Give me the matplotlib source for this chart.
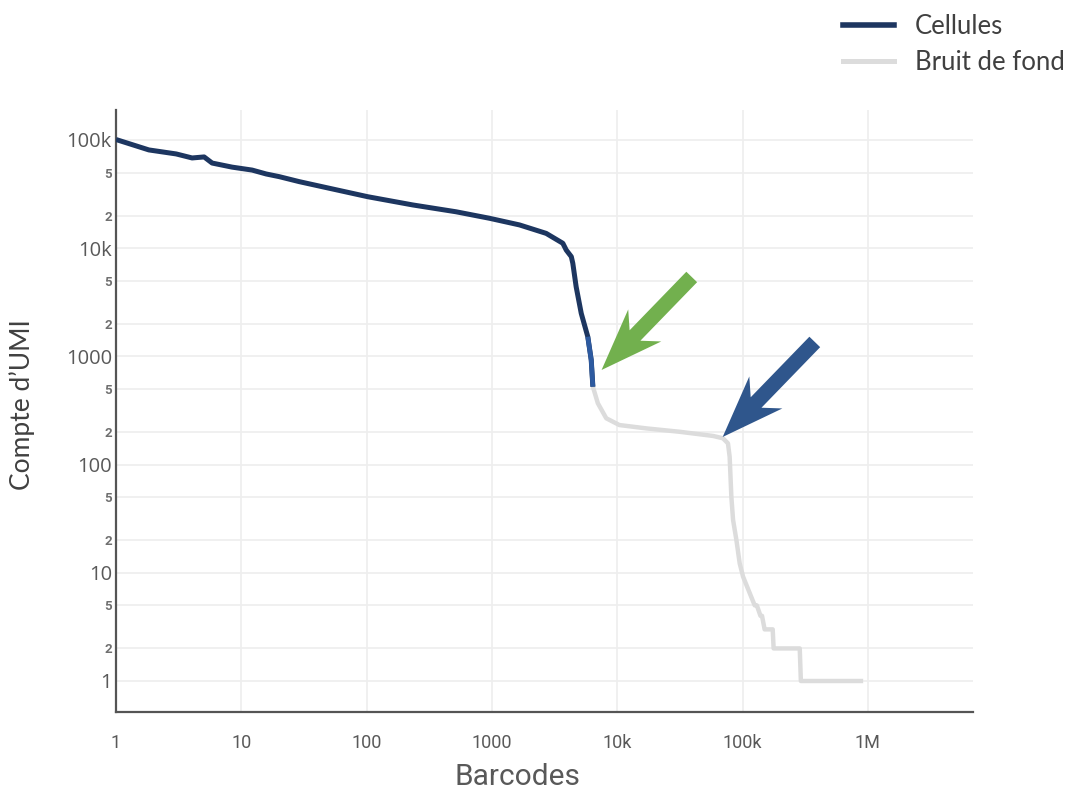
import numpy as np
import matplotlib
matplotlib.use("Agg")
import matplotlib.pyplot as plt
from matplotlib.lines import Line2D
from matplotlib.patches import Polygon
from matplotlib.transforms import IdentityTransform
from matplotlib.ticker import NullLocator

# Barcode rank plot: cells (high UMI) and background (empty droplets)
cell_rank = [1, 1.83, 3.02, 4.05, 5.05, 5.85, 8.45, 12.2, 15.8, 20.1, 29.0, 50.3,
             102, 233, 517, 955, 1660, 2710, 3680, 3920, 4300, 4420, 4700, 5160,
             5820, 6200, 6390]
cell_umi = [101000, 80900, 74300, 68200, 69700, 61200, 56100, 52700, 48500, 45800,
            41200, 35800, 29900, 25100, 21700, 18900, 16400, 13700, 11100, 9600,
            8350, 7250, 4400, 2500, 1520, 926, 525]

bg_rank = [6390, 7000, 8170, 10400, 17100, 31500, 58100, 69800, 76500, 78900, 81400,
           84000, 89300, 94900, 101000, 114000, 125000, 130000, 139000, 143000,
           150000, 174000, 177000, 286000, 292000, 917000]
bg_umi = [525, 369, 268, 232, 216, 201, 184, 175, 157, 118, 50.5, 30.8, 20.1, 12.2,
          9.2, 6.5, 5, 5, 4, 4, 3, 3, 2, 2, 1, 1]

x_ticks = [1, 10, 100, 1000, 1e4, 1e5, 1e6]
x_labels = ["1", "10", "100", "1000", "10k", "100k", "1M"]
y_ticks = [1, 10, 100, 1000, 1e4, 1e5]
y_labels = ["1", "10", "100", "1000", "10k", "100k"]
y_minor = [2, 5, 20, 50, 200, 500, 2000, 5000, 20000, 50000]
y_minor_labels = ["2", "5"] * 5

# Arrow positions (rank, UMI): tail -> tip
green_arrow = [(39300, 5420), (7500, 749)]
blue_arrow = [(377000, 1360), (69400, 180)]

NAVY = "#1d3660"
END_BLUE = "#2d5aa0"
GREY = "#dcdcdc"
TXT = "#595959"

fig = plt.figure(figsize=(10.69, 7.89), dpi=100)
ax = fig.add_axes([116 / 1069, 1 - 712 / 789, (973 - 116) / 1069, (712 - 110) / 789])

ax.set_xscale("log")
ax.set_yscale("log")
ax.set_xlim(1, 10 ** 6.839)
ax.set_ylim(10 ** -0.2865, 10 ** 5.277)

ax.plot(bg_rank, bg_umi, color=GREY, lw=3.2, solid_capstyle="butt",
        solid_joinstyle="round", zorder=3)
ax.plot(cell_rank, cell_umi, color=NAVY, lw=3.6, solid_capstyle="butt",
        solid_joinstyle="round", zorder=4)
# last part of the cell curve fades to a lighter blue
tail = [i for i, v in enumerate(cell_umi) if v <= 1520]
ax.plot([cell_rank[i] for i in tail], [cell_umi[i] for i in tail], color=END_BLUE,
        lw=3.4, solid_capstyle="butt", solid_joinstyle="round", zorder=5)

ax.set_xticks(x_ticks, x_labels)
ax.xaxis.set_minor_locator(NullLocator())
ax.set_yticks(y_ticks, y_labels)
ax.set_yticks(y_minor, y_minor_labels, minor=True)

for lab in ax.get_xticklabels():
    lab.set_fontfamily("Roboto")
    lab.set_fontsize(13)
    lab.set_color(TXT)
for lab in ax.get_yticklabels():
    lab.set_fontfamily("Open Sans")
    lab.set_fontsize(14.5)
    lab.set_color(TXT)
for lab in ax.get_yticklabels(minor=True):
    lab.set_fontfamily("Roboto")
    lab.set_fontsize(9.5)
    lab.set_fontweight("bold")
    lab.set_color("#707070")

ax.tick_params(axis="x", which="both", length=0, pad=16)
ax.tick_params(axis="y", which="both", length=0, pad=3)

ax.grid(True, which="major", axis="x", color="#eeeeee", lw=1.2)
ax.grid(True, which="both", axis="y", color="#eeeeee", lw=1.2)
ax.set_axisbelow(True)

for s in ["top", "right"]:
    ax.spines[s].set_visible(False)
for s in ["left", "bottom"]:
    ax.spines[s].set_color("#555555")
    ax.spines[s].set_linewidth(1.6)

fig.text(517 / 1069, 1 - 777 / 789, "Barcodes", ha="center", va="center",
         fontsize=21.5, family="Roboto", color=TXT)
fig.text(22 / 1069, 1 - 405 / 789, "Compte d\u2019UMI", ha="center", va="center",
         rotation=90, fontsize=19, family="Lato", color="#404040")

handles = [Line2D([], [], color=NAVY, lw=4.0), Line2D([], [], color=GREY, lw=3.6)]
fig.legend(handles, ["Cellules", "Bruit de fond"], loc="upper left",
           bbox_to_anchor=(843 / 1069, 1 - 14 / 789), frameon=False,
           borderpad=0, borderaxespad=0, handlelength=2.0, handletextpad=0.8,
           labelspacing=0.44, prop={"family": "Lato", "size": 18.5},
           labelcolor="#404040")


def stealth_arrow(tail_pt, tip_pt, color, shaft_hw=7.5, head_len=62, notch=48,
                  head_hw=23):
    t = ax.transData
    p_tip = np.array(t.transform(tip_pt))
    p_tail = np.array(t.transform(tail_pt))
    d = p_tip - p_tail
    u = d / np.hypot(*d)
    n = np.array([-u[1], u[0]])
    pts = [p_tail + n * shaft_hw,
           p_tip - u * notch + n * shaft_hw,
           p_tip - u * head_len + n * head_hw,
           p_tip,
           p_tip - u * head_len - n * head_hw,
           p_tip - u * notch - n * shaft_hw,
           p_tail - n * shaft_hw]
    fig.add_artist(Polygon(pts, closed=True, facecolor=color, edgecolor="none",
                           transform=IdentityTransform(), zorder=10))


stealth_arrow(*green_arrow, color="#72b04e")
stealth_arrow(*blue_arrow, color="#2f568c")

fig.savefig("out.png", dpi=100)
